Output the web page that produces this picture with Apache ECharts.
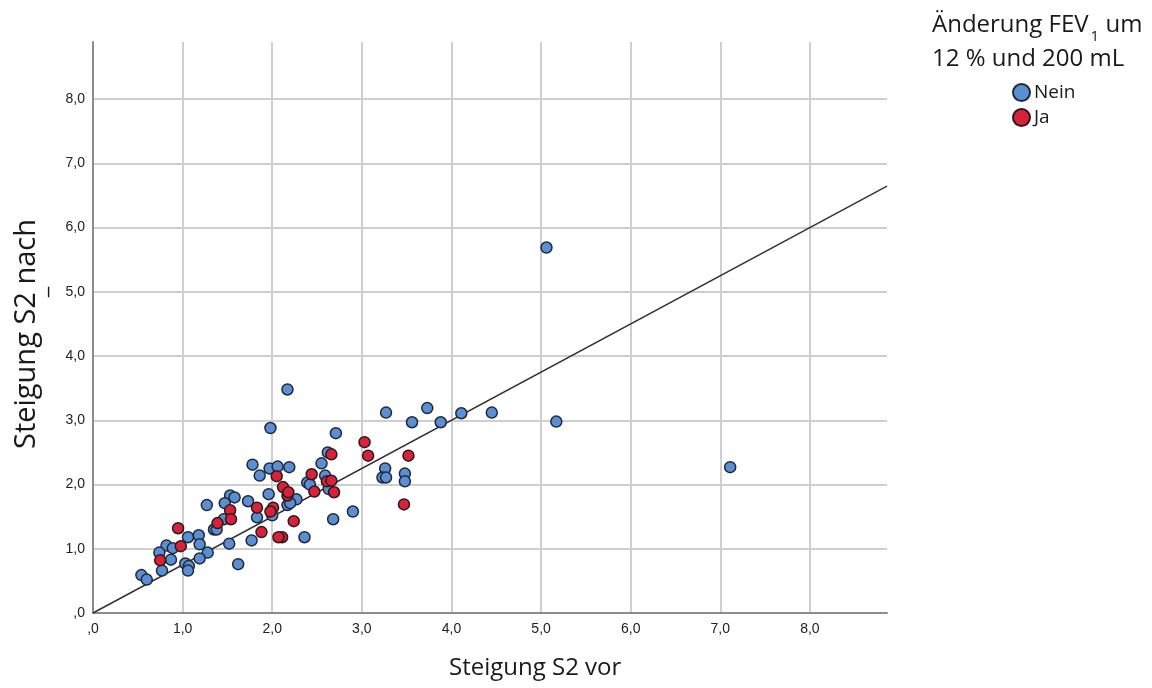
<!DOCTYPE html>
<html>
<head>
<meta charset="utf-8">
<script src="https://cdn.jsdelivr.net/npm/echarts@6/dist/echarts.min.js"></script>
<style>html,body{margin:0;padding:0;background:#fff}#c{width:1152px;height:688px}</style>
</head>
<body>
<div id="c"></div>
<script>
const tickValues = [0, 1, 2, 3, 4, 5, 6, 7, 8];
const neinX = [5.06,5.17,7.11,2.17,1.98,3.27,3.73,4.11,4.45,3.56,3.88,2.71,2.62,3.26,3.23,3.27,3.48,3.48,2.90,2.68,2.36,1.78,1.86,1.97,2.06,2.19,2.55,2.39,2.42,2.59,2.63,2.27,2.17,1.96,2.00,1.73,1.83,1.77,1.62,1.53,1.58,1.47,1.46,1.35,1.38,1.27,1.52,1.28,1.06,1.18,1.19,1.19,0.82,0.89,0.74,0.87,0.77,1.03,1.07,1.06,0.54,0.60,2.20];
const neinY = [5.69,2.98,2.27,3.48,2.88,3.12,3.19,3.11,3.12,2.97,2.97,2.80,2.50,2.25,2.11,2.11,2.17,2.05,1.58,1.46,1.18,2.31,2.14,2.25,2.28,2.27,2.33,2.03,2.00,2.14,1.93,1.77,1.68,1.85,1.52,1.74,1.49,1.13,0.76,1.83,1.80,1.71,1.46,1.30,1.30,1.68,1.08,0.94,1.18,1.21,1.07,0.85,1.05,1.01,0.94,0.83,0.66,0.77,0.73,0.66,0.59,0.52,1.71];
const jaX = [3.03,3.07,3.52,3.47,2.66,2.05,2.44,2.61,2.66,2.47,2.69,2.12,2.17,2.01,1.98,1.83,1.53,1.54,1.39,2.24,1.88,2.11,2.07,0.95,0.98,0.75,2.18];
const jaY = [2.66,2.45,2.45,1.69,2.47,2.13,2.16,2.05,2.06,1.89,1.88,1.96,1.83,1.64,1.58,1.64,1.60,1.46,1.40,1.43,1.26,1.18,1.18,1.32,1.04,0.82,1.88];
const axisMin = 0, axisMaxX = 8.86, axisMaxY = 8.89;
const fitSlope = 0.75;

const zip = (a, b) => a.map((v, i) => [v, b[i]]);
const fmt = v => v === 0 ? ',0' : v.toFixed(1).replace('.', ',');
const chart = echarts.init(document.getElementById('c'), null, {renderer: 'canvas'});
const axisCommon = {
  type: 'value', min: axisMin, interval: 1,
  axisLine: {show: true, lineStyle: {color: '#8c8c8c', width: 2}},
  axisTick: {show: false},
  splitLine: {show: true, showMaxLine: false, lineStyle: {color: '#cfcfcf', width: 2}},
  axisLabel: {formatter: fmt, color: '#222', fontSize: 14, fontFamily: 'Liberation Sans', showMaxLabel: false}
};
const TXT = '#1a1a1a';
chart.setOption({
  animation: false,
  grid: {left: 93, top: 42, width: 794, height: 571, containLabel: false},
  xAxis: Object.assign({}, axisCommon, {max: axisMaxX, axisLabel: Object.assign({}, axisCommon.axisLabel, {margin: 9})}),
  yAxis: Object.assign({}, axisCommon, {max: axisMaxY, axisLabel: Object.assign({}, axisCommon.axisLabel, {margin: 8})}),
  legend: {
    orient: 'vertical', left: 1007, top: 78, itemGap: 6, itemWidth: 17, itemHeight: 17,
    data: [{name: 'Nein', icon: 'circle'}, {name: 'Ja', icon: 'circle'}],
    textStyle: {fontSize: 19, color: TXT, fontFamily: 'Open Sans', padding: [0, 0, 0, -1]}
  },
  graphic: [
    {type: 'text', left: 932, top: 13, style: {
      text: '{a|Änderung FEV}{s|1}{a| um}', fill: TXT,
      rich: {a: {fontSize: 24, fontFamily: 'Open Sans', fill: TXT, lineHeight: 34},
             s: {fontSize: 15, fontFamily: 'Open Sans', fill: TXT, verticalAlign: 'bottom', lineHeight: 34, padding: [0, 0, -2, 2]}}
    }},
    {type: 'text', left: 932, top: 47, style: {text: '12 % und 200 mL', font: '24px "Open Sans"', fill: TXT}},
    {type: 'text', left: 449, top: 656, style: {text: 'Steigung S2 vor', font: '24px "Open Sans"', fill: TXT, align: 'center'}},
    {type: 'text', x: 12, y: 334, rotation: Math.PI / 2, style: {text: 'Steigung S2 nach', font: '29px "Open Sans"', fill: TXT, align: 'center', verticalAlign: 'top'}},
    {type: 'text', x: 27, y: 292, rotation: Math.PI / 2, style: {text: '_', font: '24px "Open Sans"', fill: TXT, align: 'center', verticalAlign: 'top'}}
  ],
  series: [
    {
      name: 'Fit', type: 'line', data: [[axisMin, axisMin * fitSlope], [axisMaxX, axisMaxX * fitSlope]],
      symbol: 'none', lineStyle: {color: '#333', width: 1.5}, silent: true, z: 1
    },
    {
      name: 'Nein', type: 'scatter', data: zip(neinX, neinY), symbolSize: 11,
      itemStyle: {color: '#5b8fd2', borderColor: '#1e2a3c', borderWidth: 1.5, opacity: 1}, z: 3
    },
    {
      name: 'Ja', type: 'scatter', data: zip(jaX, jaY), symbolSize: 11,
      itemStyle: {color: '#d8213b', borderColor: '#2a1a1e', borderWidth: 1.5, opacity: 1}, z: 4
    }
  ]
});
</script>
</body>
</html>
